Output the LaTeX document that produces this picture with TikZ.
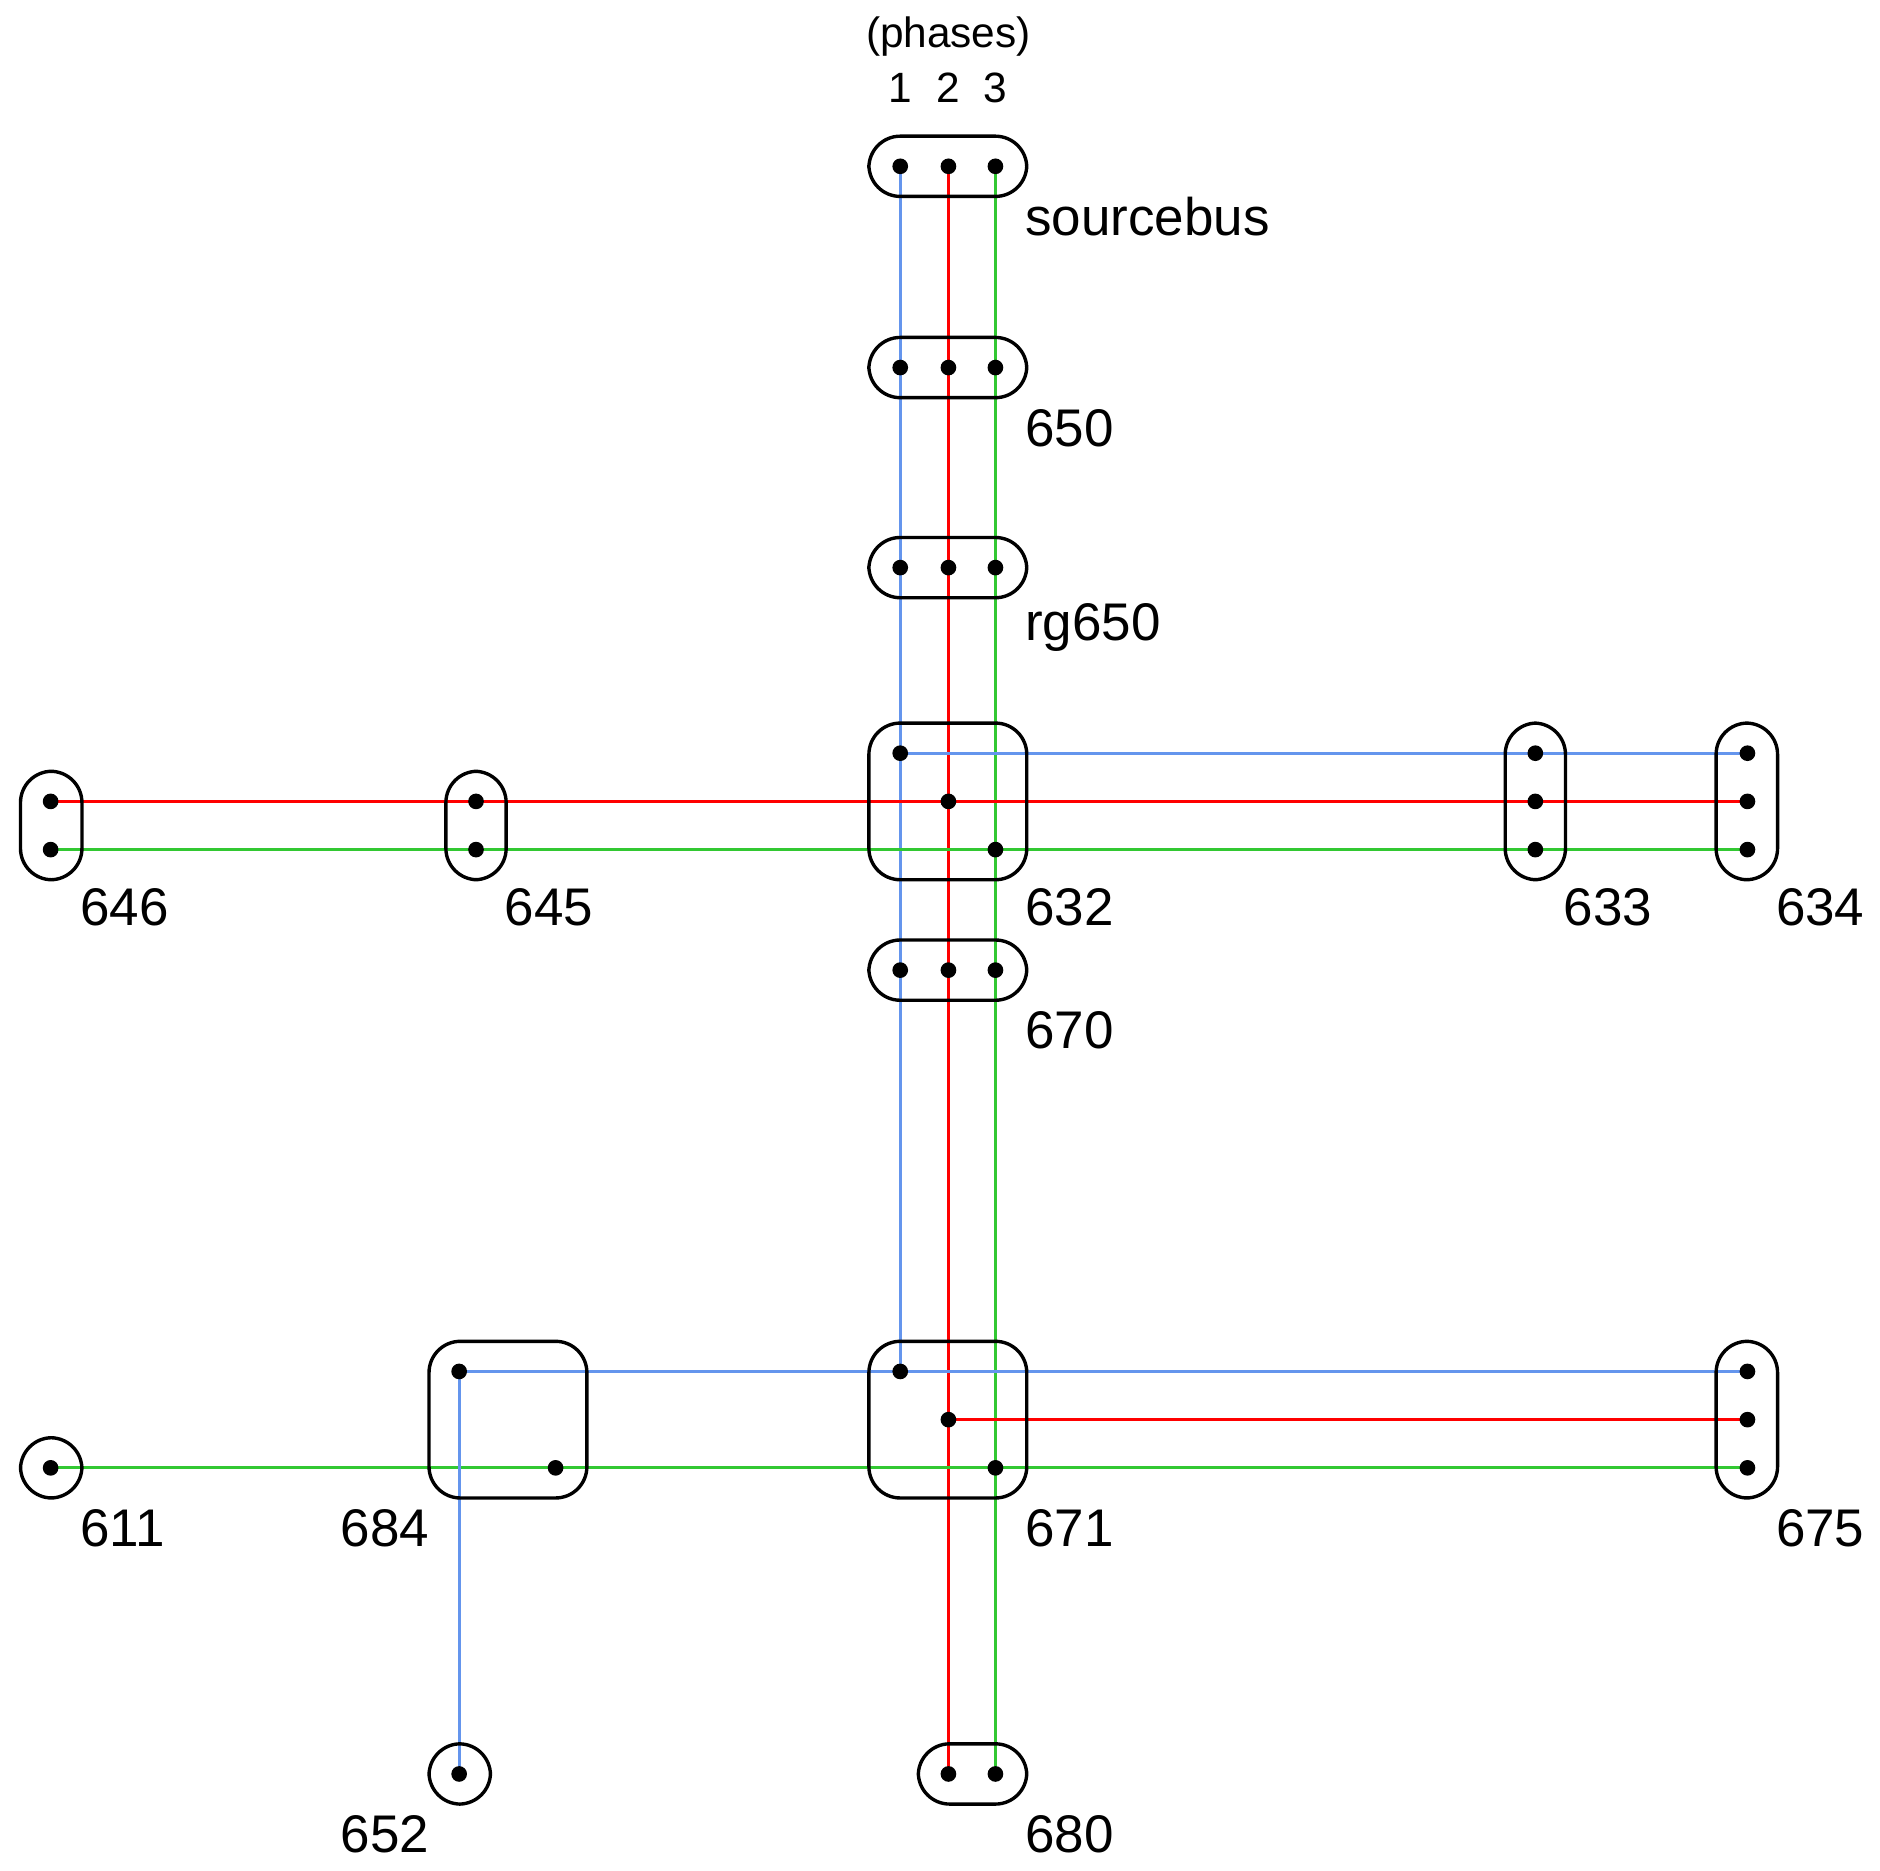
\documentclass[tikz,border=0pt]{standalone}
\usepackage{fontspec}
\setmainfont{Liberation Sans}
\tikzset{
  bus/.style={draw=black, line width=0.8pt, rounded corners=2.6mm},
  ph1/.style={draw={rgb,255:red,100;green,149;blue,237}, line width=0.7pt},
  ph2/.style={draw=red, line width=0.7pt},
  ph3/.style={draw={rgb,255:red,50;green,200;blue,50}, line width=0.7pt},
  lbl/.style={font=\fontsize{12.5}{14}\selectfont, inner sep=0pt},
  hdr/.style={font=\fontsize{10}{12}\selectfont, inner sep=0pt}
}
\begin{document}
\begin{tikzpicture}[x=0.01cm,y=-0.01cm]
\useasboundingbox (0,0) rectangle (1560,1552);

% bus positions
\coordinate (s1) at (747,138); \coordinate (s2) at (787,138); \coordinate (s3) at (826,138);
\coordinate (b1) at (747,305); \coordinate (b2) at (787,305); \coordinate (b3) at (826,305);
\coordinate (r1) at (747,471); \coordinate (r2) at (787,471); \coordinate (r3) at (826,471);
\coordinate (c1) at (747,625); \coordinate (c2) at (787,665); \coordinate (c3) at (826,705);
\coordinate (g1) at (747,805); \coordinate (g2) at (787,805); \coordinate (g3) at (826,805);
\coordinate (k1) at (747,1138); \coordinate (k2) at (787,1178); \coordinate (k3) at (826,1218);
\coordinate (h2) at (787,1472); \coordinate (h3) at (826,1472);
\coordinate (p2) at (42,665); \coordinate (p3) at (42,705);
\coordinate (q2) at (395,665); \coordinate (q3) at (395,705);
\coordinate (t1) at (1274,625); \coordinate (t2) at (1274,665); \coordinate (t3) at (1274,705);
\coordinate (u1) at (1450,625); \coordinate (u2) at (1450,665); \coordinate (u3) at (1450,705);
\coordinate (e3) at (42,1218);
\coordinate (f1) at (381,1138); \coordinate (f3) at (461,1218);
\coordinate (v1) at (1450,1138); \coordinate (v2) at (1450,1178); \coordinate (v3) at (1450,1218);
\coordinate (w1) at (381,1472);

% lines
\draw[ph1] (s1) -- (b1) -- (r1) -- (c1) -- (g1) -- (k1);
\draw[ph2] (s2) -- (b2) -- (r2) -- (c2) -- (g2) -- (k2) -- (h2);
\draw[ph3] (s3) -- (b3) -- (r3) -- (c3) -- (g3) -- (k3) -- (h3);
\draw[ph1] (c1) -- (t1) -- (u1);
\draw[ph2] (p2) -- (q2) -- (c2) -- (t2) -- (u2);
\draw[ph3] (p3) -- (q3) -- (c3) -- (t3) -- (u3);
\draw[ph1] (f1) -- (k1) -- (v1);
\draw[ph2] (k2) -- (v2);
\draw[ph3] (e3) -- (f3) -- (k3) -- (v3);
\draw[ph1] (f1) -- (w1);

% dots
\foreach \d in {s1,s2,s3,b1,b2,b3,r1,r2,r3,c1,c2,c3,g1,g2,g3,k1,k2,k3,h2,h3,
  p2,p3,q2,q3,t1,t2,t3,u1,u2,u3,e3,f1,f3,v1,v2,v3,w1}
  \fill (\d) circle (0.065cm);

% boxes
\draw[bus] (721,113) rectangle (852,163);
\draw[bus] (721,280) rectangle (852,330);
\draw[bus] (721,446) rectangle (852,496);
\draw[bus] (721,600) rectangle (852,730);
\draw[bus] (721,780) rectangle (852,830);
\draw[bus] (721,1113) rectangle (852,1243);
\draw[bus] (762,1447) rectangle (852,1497);
\draw[bus] (17,640) rectangle (68,730);
\draw[bus] (370,640) rectangle (420,730);
\draw[bus] (1249,600) rectangle (1299,730);
\draw[bus] (1424,600) rectangle (1475,730);
\draw[bus] (17,1193) rectangle (68,1243);
\draw[bus] (356,1113) rectangle (487,1243);
\draw[bus] (1424,1113) rectangle (1475,1243);
\draw[bus] (356,1447) rectangle (407,1497);

% labels
\node[hdr] (hp) at (787,30) {(phases)};
\node[hdr] (h1) at (747,73) {1};
\node[hdr] (hh2) at (787,73) {2};
\node[hdr] (hh3) at (826,73) {3};
\node[lbl, anchor=west] (lsrc) at (850,180) {sourcebus};
\node[lbl, anchor=west] (l650) at (850,355) {650};
\node[lbl, anchor=west] (lrg) at (850,521) {rg650};
\node[lbl, anchor=west] (l632) at (850,753) {632};
\node[lbl, anchor=west] (l670) at (850,855) {670};
\node[lbl, anchor=west] (l671) at (850,1268) {671};
\node[lbl, anchor=west] (l680) at (850,1522) {680};
\node[lbl, anchor=west] (l646) at (66,753) {646};
\node[lbl, anchor=west] (l645) at (418,753) {645};
\node[lbl, anchor=west] (l633) at (1297,753) {633};
\node[lbl, anchor=west] (l634) at (1473,753) {634};
\node[lbl, anchor=west] (l611) at (66,1268) {611};
\node[lbl, anchor=east] (l684) at (357,1268) {684};
\node[lbl, anchor=west] (l675) at (1473,1268) {675};
\node[lbl, anchor=east] (l652) at (357,1522) {652};
\end{tikzpicture}
\end{document}
